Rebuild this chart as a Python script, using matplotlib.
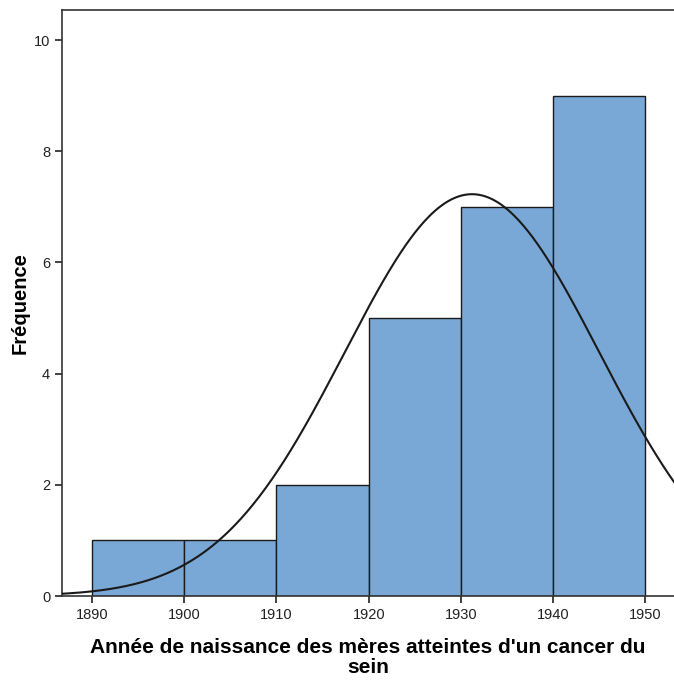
import numpy as np
import matplotlib
matplotlib.use('Agg')
import matplotlib.pyplot as plt

# histogram bins (birth year of mothers) and counts
bin_edges = [1890, 1900, 1910, 1920, 1930, 1940, 1950]
counts = [1, 1, 2, 5, 7, 9]

# fitted normal curve
curve_mean = 1931.2
curve_sd = 13.8
n_total = sum(counts)
bin_width = 10

plt.rcParams['font.family'] = ['Liberation Sans', 'DejaVu Sans']

fig = plt.figure(figsize=(6.74, 6.81), dpi=100)
ax = fig.add_axes([0.092, 0.1248, 0.908, 0.8605])

ax.bar(bin_edges[:-1], counts, width=np.diff(bin_edges), align='edge',
       color='#79a8d6', edgecolor='#1a1a1a', linewidth=1.0, zorder=2)

x = np.linspace(1886, 1954, 400)
y = n_total * bin_width / (curve_sd * np.sqrt(2 * np.pi)) * \
    np.exp(-0.5 * ((x - curve_mean) / curve_sd) ** 2)
ax.plot(x, y, color='#1a1a1a', linewidth=1.5, zorder=3)

ax.set_xlim(1886.75, 1953.1)
ax.set_ylim(0, 10.54)
ax.set_xticks(bin_edges)
ax.set_yticks([0, 2, 4, 6, 8, 10])
ax.tick_params(direction='out', length=5, width=1.2, labelsize=10.5, colors='#222222')

ax.spines['right'].set_visible(False)
for s in ['left', 'top', 'bottom']:
    ax.spines[s].set_linewidth(1.2)
    ax.spines[s].set_color('#333333')

ax.set_xlabel("Année de naissance des mères atteintes d'un cancer du\nsein",
              fontsize=15, fontweight='bold', labelpad=12, linespacing=1.05)
ax.set_ylabel('Fréquence', fontsize=14.5, fontweight='bold', labelpad=3)

plt.savefig('out.png', dpi=100)
plt.close()
